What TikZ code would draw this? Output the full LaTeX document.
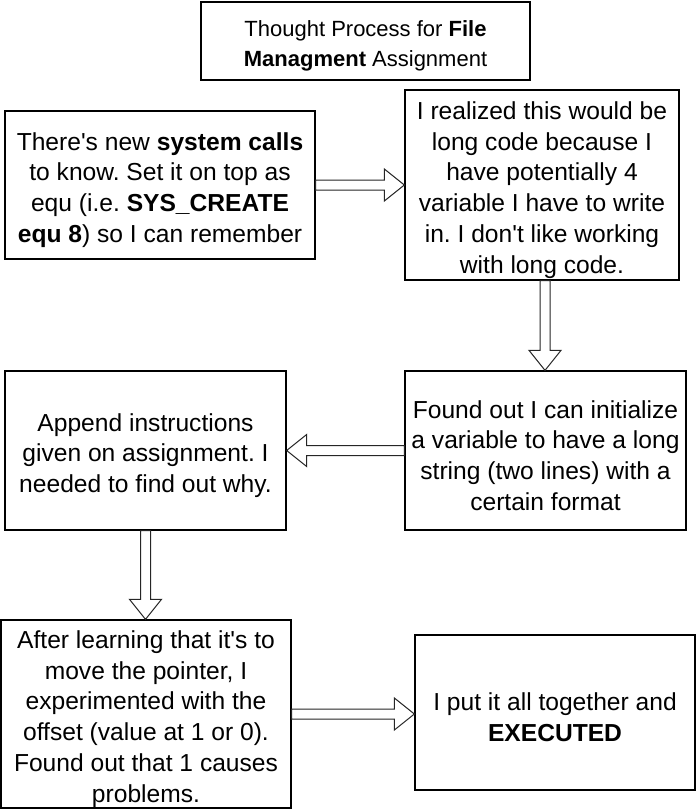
\documentclass[tikz,border=0pt]{standalone}
\usepackage{fontspec}
\setmainfont{Liberation Sans}
\frenchspacing
\usetikzlibrary{calc}
\tikzset{
  frame/.style={draw=black, line width=1.3pt, inner sep=0pt},
  txt/.style={align=center, inner sep=0pt, text=black,
    font=\fontsize{24.6}{30.8}\selectfont},
  titletxt/.style={txt, font=\fontsize{22}{30}\selectfont},
  blk/.style={draw=black!85, line width=1pt, fill=white, line join=miter},
}
% #1 name, #2 width, #3 height, #4 centre, #5 text style, #6 text
\newcommand\bx[6]{%
  \node[frame, minimum width=#2, minimum height=#3] (#1) at (#4) {};
  \node[#5] (#1t) at ([yshift=-5pt]#1.center) {#6};}
\newcommand\harrow[3]{%
  \draw[blk] let \p1=(#1), \p2=(#2) in
    (\x1,{\y1+5pt}) -- ({\x2-(#3)*20pt},{\y1+5pt}) -- ({\x2-(#3)*20pt},{\y1+16pt})
    -- (\x2,\y1) -- ({\x2-(#3)*20pt},{\y1-16pt}) -- ({\x2-(#3)*20pt},{\y1-5pt})
    -- (\x1,{\y1-5pt}) -- cycle;}
\newcommand\varrow[2]{%
  \draw[blk] let \p1=(#1), \p2=(#2) in
    ({\x1-5pt},\y1) -- ({\x1-5pt},{\y2+20pt}) -- ({\x1-16pt},{\y2+20pt})
    -- (\x1,\y2) -- ({\x1+16pt},{\y2+20pt}) -- ({\x1+5pt},{\y2+20pt})
    -- ({\x1+5pt},\y1) -- cycle;}
\begin{document}
\begin{tikzpicture}[x=1pt,y=-1pt]
\useasboundingbox (0,0) rectangle (696,811);
\bx{t}{329pt}{78pt}{365.5,41}{titletxt}
  {Thought Process for \textbf{File}\\\textbf{Managment} Assignment}
\bx{b1}{310pt}{148pt}{160,185}{txt}
  {There\textquotesingle s new \textbf{system calls}\\to know. Set it on top as\\equ (i.e. \textbf{SYS\_CREATE}\\\textbf{equ 8}) so I can remember}
\bx{b2}{274pt}{190pt}{542,185}{txt}
  {I realized this would be\\long code because I\\have potentially 4\\variable I have to write\\in. I don\textquotesingle t like working\\with long code.}
\bx{b3}{281pt}{159pt}{145.5,450.5}{txt}
  {Append instructions\\given on assignment. I\\needed to find out why.}
\bx{b4}{281pt}{159pt}{545.5,450.5}{txt}
  {Found out I can initialize\\a variable to have a long\\string (two lines) with a\\certain format}
\bx{b5}{290pt}{188pt}{146,714}{txt}
  {After learning that it\textquotesingle s to\\move the pointer, I\\experimented with the\\offset (value at 1 or 0).\\Found out that 1 causes\\problems.}
\bx{b6}{280pt}{155pt}{555,712.5}{txt}
  {I put it all together and\\\textbf{EXECUTED}}
\harrow{b1.east}{b2.west}{1}
\varrow{[xshift=3pt]b2.south}{b4.north}
\harrow{b4.west}{b3.east}{-1}
\varrow{b3.south}{b5.north}
\harrow{b5.east}{b6.west}{1}
\end{tikzpicture}
\end{document}
